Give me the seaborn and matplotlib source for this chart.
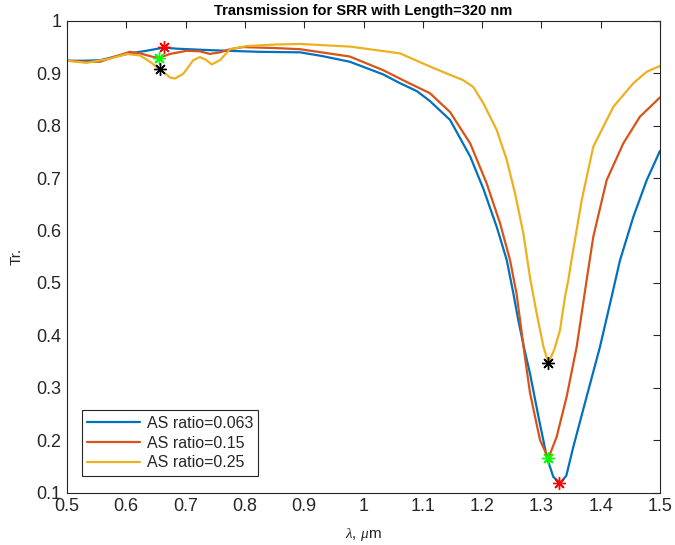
import numpy as np
import pandas as pd
import matplotlib
matplotlib.use("Agg")
import matplotlib.pyplot as plt
import seaborn as sns

# ---- data ----
lam_a = [0.50, 0.53, 0.556, 0.578, 0.606, 0.634, 0.663, 0.685, 0.724, 0.769, 0.825,
         0.893, 0.93, 0.977, 1.033, 1.06, 1.09, 1.112, 1.146, 1.18, 1.202,
         1.2246, 1.2415, 1.2527, 1.261, 1.271, 1.2808, 1.295, 1.309, 1.320, 1.3314,
         1.342, 1.3538, 1.3763, 1.3988, 1.4185, 1.4325, 1.455, 1.4776, 1.50]
tr_a = [0.924, 0.924, 0.925, 0.931, 0.938, 0.943, 0.949, 0.947, 0.945, 0.943, 0.941,
        0.940, 0.933, 0.922, 0.898, 0.882, 0.866, 0.847, 0.811, 0.741, 0.680,
        0.607, 0.544, 0.480, 0.429, 0.375, 0.327, 0.245, 0.168, 0.130, 0.118,
        0.132, 0.187, 0.283, 0.378, 0.474, 0.543, 0.626, 0.696, 0.752]

lam_b = [0.50, 0.53, 0.556, 0.578, 0.606, 0.623, 0.646, 0.656, 0.674, 0.702, 0.724,
         0.741, 0.758, 0.775, 0.797, 0.854, 0.893, 0.977, 1.033, 1.07, 1.112, 1.146,
         1.18, 1.2077, 1.2302, 1.247, 1.258, 1.264, 1.272, 1.2808, 1.2977, 1.3117,
         1.3258, 1.3426, 1.3595, 1.3763, 1.3875, 1.41, 1.438, 1.466, 1.50]
tr_b = [0.924, 0.922, 0.922, 0.931, 0.941, 0.938, 0.931, 0.930, 0.937, 0.943, 0.942,
        0.937, 0.940, 0.946, 0.950, 0.948, 0.946, 0.932, 0.906, 0.885, 0.862, 0.826,
        0.766, 0.690, 0.614, 0.544, 0.480, 0.429, 0.360, 0.290, 0.200, 0.165,
        0.2065, 0.283, 0.378, 0.5055, 0.588, 0.696, 0.766, 0.817, 0.854]

lam_c = [0.50, 0.533, 0.573, 0.601, 0.623, 0.640, 0.656, 0.674, 0.682, 0.696, 0.713,
         0.724, 0.734, 0.744, 0.758, 0.775, 0.803, 0.854, 0.893, 0.977, 1.0616, 1.112,
         1.146, 1.168, 1.185, 1.202, 1.2246, 1.2415, 1.2555, 1.2695, 1.2808, 1.292,
         1.3035, 1.3117, 1.3215, 1.3314, 1.3398, 1.3454, 1.351, 1.368, 1.3875, 1.4213,
         1.455, 1.4776, 1.50]
tr_c = [0.924, 0.920, 0.928, 0.937, 0.934, 0.922, 0.908, 0.892, 0.890, 0.899, 0.925,
        0.931, 0.926, 0.917, 0.925, 0.946, 0.952, 0.955, 0.956, 0.951, 0.938, 0.913,
        0.897, 0.887, 0.874, 0.843, 0.792, 0.735, 0.671, 0.595, 0.510, 0.442,
        0.378, 0.347, 0.372, 0.410, 0.474, 0.5055, 0.545, 0.658, 0.760, 0.836,
        0.881, 0.903, 0.914]

labels = ["AS ratio=0.063", "AS ratio=0.15", "AS ratio=0.25"]

# marked extrema (asterisks)
mark_red_lam = [0.6636, 1.3305]
mark_red_tr = [0.950, 0.118]
mark_green_lam = [0.655, 1.3105]
mark_green_tr = [0.930, 0.165]
mark_black_lam = [0.656, 1.3110]
mark_black_tr = [0.908, 0.347]

xticks = [0.5, 0.6, 0.7, 0.8, 0.9, 1.0, 1.1, 1.2, 1.3, 1.4, 1.5]
xticklabels = ["0.5", "0.6", "0.7", "0.8", "0.9", "1", "1.1", "1.2", "1.3", "1.4", "1.5"]
yticks = [0.1, 0.2, 0.3, 0.4, 0.5, 0.6, 0.7, 0.8, 0.9, 1.0]
yticklabels = ["0.1", "0.2", "0.3", "0.4", "0.5", "0.6", "0.7", "0.8", "0.9", "1"]

# ---- plotting ----
sns.set_style("white")
plt.rcParams["font.family"] = ["Liberation Sans", "DejaVu Sans"]
plt.rcParams["mathtext.fontset"] = "custom"
plt.rcParams["mathtext.it"] = "Liberation Serif:italic"
plt.rcParams["mathtext.rm"] = "Liberation Sans"

df = pd.concat([
    pd.DataFrame({"lam": lam_a, "tr": tr_a, "series": labels[0]}),
    pd.DataFrame({"lam": lam_b, "tr": tr_b, "series": labels[1]}),
    pd.DataFrame({"lam": lam_c, "tr": tr_c, "series": labels[2]}),
], ignore_index=True)

palette = {labels[0]: "#0072BD", labels[1]: "#D95319", labels[2]: "#EDB120"}

fig = plt.figure(figsize=(6.75, 5.45), dpi=100)
ax = fig.add_axes([67 / 675, 1 - 492.5 / 545, 593 / 675, 471.6 / 545])

sns.lineplot(data=df, x="lam", y="tr", hue="series", palette=palette,
             sort=False, estimator=None, linewidth=1.6, ax=ax)
for ln in ax.get_lines():
    ln.set_solid_joinstyle("round")

ast = (8, 2, 0)
ax.plot(mark_red_lam, mark_red_tr, linestyle="none", marker=ast, markersize=9,
        markeredgewidth=1.0, color="#ff0000", zorder=5)
ax.plot(mark_green_lam, mark_green_tr, linestyle="none", marker=ast, markersize=9,
        markeredgewidth=1.0, color="#00ff00", zorder=5)
ax.plot(mark_black_lam, mark_black_tr, linestyle="none", marker=ast, markersize=9,
        markeredgewidth=1.0, color="#000000", zorder=5)

ax.set_xlim(0.5, 1.5)
ax.set_ylim(0.1, 1.0)
ax.set_xticks(xticks)
ax.set_xticklabels(xticklabels)
ax.set_yticks(yticks)
ax.set_yticklabels(yticklabels)
ax.tick_params(direction="in", top=True, right=True, length=5, width=0.8,
               colors="#262626", labelsize=13, pad=4)
for sp in ax.spines.values():
    sp.set_color("#262626")
    sp.set_linewidth(0.8)
    sp.set_visible(True)

ax.set_title("Transmission for SRR with Length=320 nm", fontsize=10.5,
             fontweight="bold", color="black", pad=4)
ax.set_xlabel(r"$\it{\lambda}$, $\it{\mu}$m", fontsize=11, color="#262626", labelpad=8)
ax.set_ylabel("Tr.", fontsize=11, color="#262626", labelpad=9)

leg = ax.legend(loc="lower left", bbox_to_anchor=(0.025, 0.035), borderaxespad=0,
                fontsize=11.5, frameon=True, fancybox=False, framealpha=1,
                edgecolor="#262626", handlelength=3.3, handletextpad=0.4,
                borderpad=0.35, labelspacing=0.3, title=None)
leg.get_frame().set_linewidth(0.8)

fig.savefig("out.png", dpi=100)
